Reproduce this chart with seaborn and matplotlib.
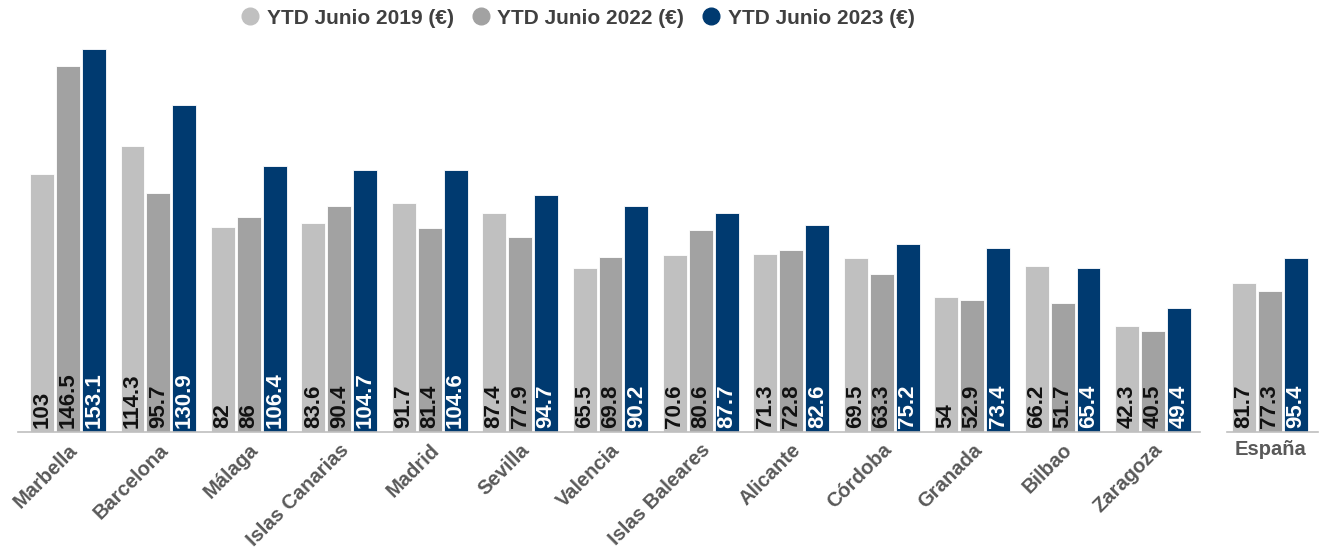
import matplotlib
matplotlib.use("Agg")
import matplotlib.pyplot as plt
from matplotlib.lines import Line2D
import seaborn as sns
import pandas as pd

cities = ["Marbella", "Barcelona", "Málaga", "Islas Canarias", "Madrid", "Sevilla",
          "Valencia", "Islas Baleares", "Alicante", "Córdoba", "Granada", "Bilbao", "Zaragoza"]
series = ["YTD Junio 2019 (€)", "YTD Junio 2022 (€)", "YTD Junio 2023 (€)"]
v2019 = [103, 114.3, 82, 83.6, 91.7, 87.4, 65.5, 70.6, 71.3, 69.5, 54, 66.2, 42.3]
v2022 = [146.5, 95.7, 86, 90.4, 81.4, 77.9, 69.8, 80.6, 72.8, 63.3, 52.9, 51.7, 40.5]
v2023 = [153.1, 130.9, 106.4, 104.7, 104.6, 94.7, 90.2, 87.7, 82.6, 75.2, 73.4, 65.4, 49.4]
spain_label = ["España"]
spain_vals = [81.7, 77.3, 95.4]

colors = ["#C0C0C0", "#A2A2A2", "#003A70"]
label_colors = ["#111111", "#111111", "#FFFFFF"]

sns.set_theme(style="white")
plt.rcParams["font.family"] = ["Liberation Sans", "DejaVu Sans"]

def long_df(cats, vals_by_series):
    rows = []
    for s, vals in zip(series, vals_by_series):
        for c, v in zip(cats, vals):
            rows.append({"cat": c, "serie": s, "val": v})
    return pd.DataFrame(rows)

df_main = long_df(cities, [v2019, v2022, v2023])
df_es = long_df(spain_label, [[spain_vals[0]], [spain_vals[1]], [spain_vals[2]]])

W, H = 1326, 548
fig = plt.figure(figsize=(W / 100, H / 100), dpi=100)

base_px = 432
top_px = 40
ymax_main = 153.1 * (base_px - top_px) / (base_px - 49)
ymax_es = 95.4 * (base_px - top_px) / (base_px - 258)
bottom = (H - base_px) / H
height = (base_px - top_px) / H

ax = fig.add_axes([18 / W, bottom, (1200 - 18) / W, height])
ax2 = fig.add_axes([1227 / W, bottom, (1318 - 1227) / W, height])

def draw(axis, df, xl, ymax):
    sns.barplot(data=df, x="cat", y="val", hue="serie", hue_order=series,
                palette=colors, width=0.86, gap=0.08, saturation=1,
                edgecolor="white", linewidth=0.6, legend=False, ax=axis)
    axis.set_ylim(0, ymax)
    axis.set_xlim(*xl)
    pad = 1.6 * ymax / 156.7
    for i, cont in enumerate(axis.containers):
        for bar in cont:
            v = bar.get_height()
            txt = f"{v:g}"
            axis.text(bar.get_x() + bar.get_width() / 2, pad, txt, rotation=90,
                      ha="center", va="bottom", fontsize=16, fontweight="bold",
                      color=label_colors[i])
    axis.set_xlabel("")
    axis.set_ylabel("")
    axis.set_yticks([])
    for s in ["top", "right", "left"]:
        axis.spines[s].set_visible(False)
    axis.spines["bottom"].set_color("#BFBFBF")
    axis.spines["bottom"].set_linewidth(1.2)
    axis.tick_params(axis="x", length=0, pad=6)

px_per = (1153 - 68) / 12
draw(ax, df_main, (-(68 - 18) / px_per, 12 + (1200 - 1153) / px_per), ymax_main)
draw(ax2, df_es, (-(1270 - 1227) / px_per, (1318 - 1270) / px_per), ymax_es)

for lab in ax.get_xticklabels():
    lab.set_rotation(45)
    lab.set_ha("right")
    lab.set_rotation_mode("anchor")
    lab.set_fontsize(14.5)
    lab.set_fontweight("bold")
    lab.set_color("#595959")
for lab in ax2.get_xticklabels():
    lab.set_fontsize(14.5)
    lab.set_fontweight("bold")
    lab.set_color("#595959")

handles = [Line2D([0], [0], marker="o", linestyle="", markersize=12,
                  markerfacecolor=c, markeredgecolor=c) for c in colors]
fig.legend(handles, series, loc="center", bbox_to_anchor=(574 / W, 1 - 18 / H),
           ncol=3, frameon=False, handletextpad=0.0, columnspacing=0.5,
           handlelength=1.6,
           prop={"family": "Liberation Sans", "weight": "bold", "size": 15},
           labelcolor="#404040")

fig.savefig("out.png", dpi=100)
